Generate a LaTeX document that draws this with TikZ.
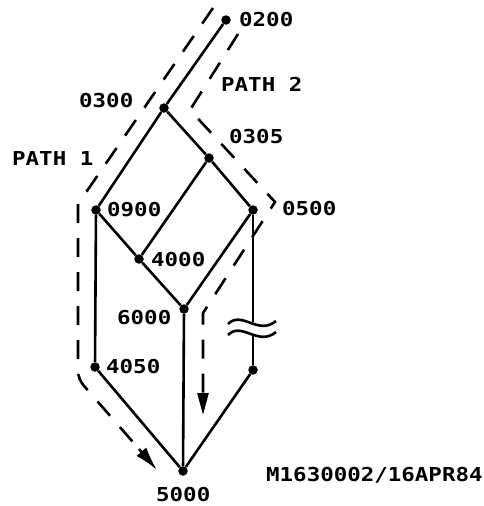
\documentclass[tikz,border=0pt]{standalone}
\usepackage{fontspec}
\newfontfamily\plotfont[FakeStretch=1.17]{DejaVu Sans Mono}
\usetikzlibrary{arrows.meta}
\begin{document}
\begin{tikzpicture}[x=1pt,y=-1pt,
  dot/.style={circle,fill=black,inner sep=0pt,minimum size=9.5pt},
  lbl/.style={anchor=base west,inner sep=0pt,font=\plotfont\bfseries\fontsize{19.2}{22}\selectfont},
  edge/.style={line width=2.6pt},
  pathline/.style={line width=2.6pt,dash pattern=on 19pt off 15pt},
  tipa/.style={line width=2.6pt,-{Latex[length=24pt,width=13pt]}},
  tipb/.style={line width=2.6pt,-{Triangle[length=22pt,width=11pt]}}]
\useasboundingbox[fill=white] (0,0) rectangle (484,506);

% nodes
\node[dot] (n0200) at (226,20) {};
\node[dot] (n0300) at (164,108) {};
\node[dot] (n0305) at (209,158) {};
\node[dot] (n0900) at (96,210) {};
\node[dot] (n0500) at (253,210) {};
\node[dot] (n4000) at (139,259) {};
\node[dot] (n6000) at (184,309) {};
\node[dot] (n4050) at (95,367) {};
\node[dot] (nR) at (253,370) {};
\node[dot] (n5000) at (183,471) {};
\coordinate (brkA) at (253,322);
\coordinate (brkB) at (253,334);

% edges
\draw[edge] (n0200) -- (n0300);
\draw[edge] (n0300) -- (n0900);
\draw[edge] (n0300) -- (n0305);
\draw[edge] (n0305) -- (n4000);
\draw[edge] (n0305) -- (n0500);
\draw[edge] (n0900) -- (n4000);
\draw[edge] (n4000) -- (n6000);
\draw[edge] (n0500) -- (n6000);
\draw[edge] (n0900) -- (n4050);
\draw[edge] (n4050) -- (n5000);
\draw[edge] (n6000) -- (n5000);
\draw[edge] (n0500) -- (brkA);
\draw[edge] (brkB) -- (nR);
\draw[edge] (nR) -- (n5000);

% break symbol
\draw[edge] (228,324) .. controls (242,310) and (258,336) .. (276,321);
\draw[edge] (228,335) .. controls (242,321) and (258,347) .. (276,332);

% path 1
\coordinate (p1s) at (213,8);
\coordinate (p1a) at (78,204);
\coordinate (p1b) at (78,379);
\coordinate (p1e) at (139,449);
\coordinate (p1t) at (157,470);
\draw[pathline] (p1s) -- (p1a) [rounded corners=8pt] -- (p1b) -- (p1e);
\draw[tipa] (p1e) -- (p1t);

% path 2
\coordinate (p2s) at (238,34);
\coordinate (p2a) at (190,110);
\coordinate (p2b) at (275,202);
\coordinate (p2c) at (203,313);
\coordinate (p2e) at (203,393);
\coordinate (p2t) at (203,415);
\draw[pathline] (p2s) -- (p2a) -- (p2b) -- (p2c) -- (p2e);
\draw[tipb] (p2e) -- (p2t);

% labels
\node[lbl] (l0200) at (239,27) {0200};
\node[lbl] (lpath2) at (221,91.5) {PATH 2};
\node[lbl] (l0300) at (79,107) {0300};
\node[lbl] (l0305) at (229,143) {0305};
\node[lbl] (lpath1) at (12,165) {PATH 1};
\node[lbl] (l0900) at (107,216.5) {0900};
\node[lbl] (l0500) at (282,215) {0500};
\node[lbl] (l4000) at (151,266.5) {4000};
\node[lbl] (l6000) at (117,324) {6000};
\node[lbl] (l4050) at (106,373) {4050};
\node[lbl] (l5000) at (156,501) {5000};
\node[lbl] (lid) at (266,481) {M1630002/16APR84};
\end{tikzpicture}
\end{document}
